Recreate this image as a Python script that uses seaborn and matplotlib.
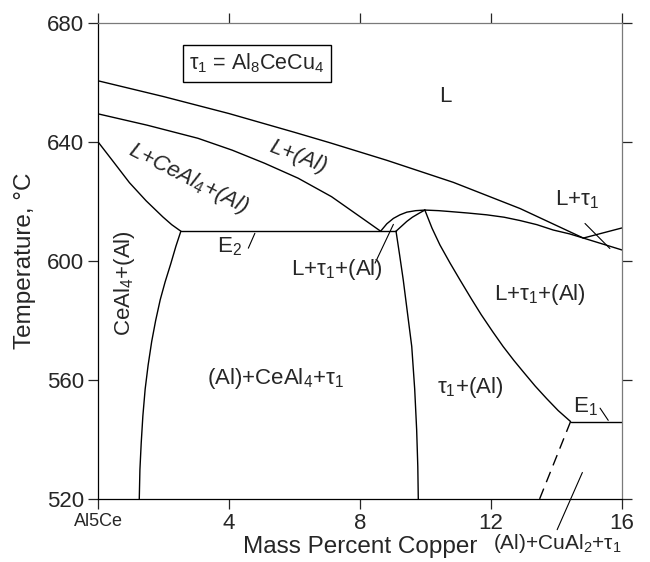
import matplotlib
matplotlib.use('Agg')
import matplotlib.pyplot as plt
import seaborn as sns
import pandas as pd

sns.set_style('ticks')
plt.rcParams['font.family'] = ['Liberation Sans', 'DejaVu Sans']
plt.rcParams['mathtext.fontset'] = 'custom'
plt.rcParams['mathtext.rm'] = 'Liberation Sans'
plt.rcParams['mathtext.it'] = 'Liberation Sans:italic'
plt.rcParams['mathtext.default'] = 'regular'

# ---------------- data (mass % Cu, temperature °C) ----------------
liquidus_x = [0.0, 2.0, 4.0, 6.0, 7.08, 8.82, 10.85, 12.89, 14.82, 16.0]
liquidus_t = [660.5, 655.2, 649.5, 643.2, 639.7, 633.8, 626.4, 617.6, 607.7, 603.7]

al_ceal4_x = [0.0, 1.5, 3.05, 4.1, 5.09, 6.11, 7.13, 8.14, 8.63]
al_ceal4_t = [649.4, 645.6, 641.2, 637.2, 632.8, 627.8, 621.6, 613.8, 610.0]

ceal4_liq_x = [0.0, 0.45, 0.96, 1.47, 1.98, 2.25, 2.53]
ceal4_liq_t = [640.0, 633.6, 626.3, 620.2, 614.8, 612.2, 610.0]

e2_x = [2.53, 9.10]
e2_t = [610.0, 610.0]

left_solvus_x = [2.53, 2.38, 2.22, 2.05, 1.90, 1.76, 1.64, 1.53, 1.44, 1.37, 1.32, 1.28, 1.26]
left_solvus_t = [610.0, 605.0, 599.0, 593.0, 587.0, 580.0, 573.0, 565.0, 557.0, 548.0, 539.0, 530.0, 520.0]

right_solvus_x = [9.10, 9.21, 9.32, 9.45, 9.58, 9.67, 9.73, 9.765, 9.78]
right_solvus_t = [610.0, 602.0, 593.7, 582.5, 571.3, 557.0, 543.3, 531.0, 520.0]

dome_outer_x = [8.63, 8.82, 9.02, 9.22, 9.43, 9.70, 9.98]
dome_outer_t = [610.0, 612.5, 614.3, 615.5, 616.4, 616.9, 617.1]

dome_inner_x = [9.10, 9.27, 9.43, 9.60, 9.80, 9.98]
dome_inner_t = [610.0, 611.7, 613.3, 614.7, 616.0, 617.1]

tau_liq_x = [9.98, 10.4, 10.75, 11.3, 11.87, 12.4, 12.88, 13.4, 13.9, 14.4, 14.82]
tau_liq_t = [617.1, 616.9, 616.6, 616.1, 615.5, 614.7, 613.6, 612.2, 610.4, 609.1, 607.7]

groove_x = [14.82, 16.0]
groove_t = [607.7, 611.1]

tau_al_x = [9.98, 10.2, 10.44, 10.75, 11.05, 11.4, 11.7, 12.05, 12.37, 12.7, 13.0, 13.35, 13.7, 14.05, 14.43]
tau_al_t = [617.1, 611.0, 605.4, 599.3, 593.7, 587.3, 582.0, 576.3, 571.3, 566.6, 562.6, 558.0, 553.8, 549.8, 546.1]

e1_x = [14.43, 16.0]
e1_t = [546.1, 546.1]

dashed_x = [14.43, 13.48]
dashed_t = [546.1, 520.0]

# leader lines
lead_e2_x = [4.79, 4.59]
lead_e2_t = [609.3, 604.3]
lead_mid_x = [9.02, 8.46]
lead_mid_t = [612.3, 599.3]
lead_ltau_x = [14.87, 15.63]
lead_ltau_t = [612.6, 604.2]
lead_e1_x = [15.33, 15.58]
lead_e1_t = [550.6, 546.5]
lead_cual2_x = [14.79, 14.02]
lead_cual2_t = [529.0, 509.8]

x_ticks = [0, 4, 8, 12, 16]
x_ticklabels = ['Al5Ce', '4', '8', '12', '16']
y_ticks = [520, 560, 600, 640, 680]

# ---------------- figure ----------------
fig = plt.figure(figsize=(6.5, 5.62), dpi=100)
ax = fig.add_axes([98/650, 1-499.3/562, (622-98)/650, (499.3-22.7)/562])

LW = 1.0

def curve(xs, ts, lw=LW):
    df = pd.DataFrame({'x': xs, 't': ts})
    sns.lineplot(data=df, x='x', y='t', sort=False, estimator=None,
                 color='black', lw=lw, ax=ax)
    line = ax.lines[-1]
    line.set_solid_joinstyle('round')
    return line

for xs, ts in [(liquidus_x, liquidus_t), (al_ceal4_x, al_ceal4_t),
               (ceal4_liq_x, ceal4_liq_t), (e2_x, e2_t),
               (left_solvus_x, left_solvus_t), (right_solvus_x, right_solvus_t),
               (dome_outer_x, dome_outer_t), (dome_inner_x, dome_inner_t),
               (tau_liq_x, tau_liq_t), (groove_x, groove_t),
               (tau_al_x, tau_al_t), (e1_x, e1_t)]:
    curve(xs, ts)

ln = curve(dashed_x, dashed_t)
ln.set_linestyle((0, (8, 5)))

for xs, ts in [(lead_e2_x, lead_e2_t), (lead_mid_x, lead_mid_t),
               (lead_ltau_x, lead_ltau_t), (lead_e1_x, lead_e1_t)]:
    curve(xs, ts, lw=0.8)
ln = curve(lead_cual2_x, lead_cual2_t, lw=0.8)
ln.set_clip_on(False)

ax.set_xlim(0, 16)
ax.set_ylim(520, 680)
ax.set_xticks(x_ticks)
ax.set_xticklabels(x_ticklabels)
ax.set_yticks(y_ticks)

ax.tick_params(direction='out', length=7, width=0.9, labelsize=16, pad=3,
               top=True, right=True)
ax.get_xticklabels()[0].set_fontsize(13)
for side in ['left', 'bottom']:
    ax.spines[side].set_color('black')
    ax.spines[side].set_linewidth(0.9)
for side in ['top', 'right']:
    ax.spines[side].set_color('#7a7a7a')
    ax.spines[side].set_linewidth(0.9)
    ax.spines[side].set_visible(True)
for t in ax.xaxis.get_ticklines()[1::2]:
    t.set_color('#7a7a7a')
for t in ax.yaxis.get_ticklines()[1::2]:
    t.set_color('#7a7a7a')

ax.set_xlabel('Mass Percent Copper', fontsize=17.5, labelpad=1)
ax.set_ylabel('Temperature, °C', fontsize=17.5, labelpad=8)

fs = 16
ax.text(4.86, 666.3, r'$\tau_1$ = Al$_8$CeCu$_4$', fontsize=15.5, ha='center', va='center',
        bbox=dict(boxstyle='square,pad=0.3', fc='white', ec='black', lw=1.0))
ax.text(10.6, 655.2, 'L', fontsize=fs, ha='center', va='center')
ax.text(6.11, 635.0, 'L+(Al)', fontsize=fs, style='italic', rotation=-21,
        ha='center', va='center')
ax.text(2.75, 627.8, r'L+CeAl$_\mathit{4}$+(Al)', fontsize=fs, style='italic', rotation=-27,
        ha='center', va='center')
ax.text(4.0, 604.8, r'E$_2$', fontsize=fs, ha='center', va='center')
ax.text(7.29, 597.0, r'L+$\tau_1$+(Al)', fontsize=fs, ha='center', va='center')
ax.text(0.82, 592.7, r'CeAl$_4$+(Al)', fontsize=fs, rotation=90, ha='center', va='center')
ax.text(5.43, 560.7, r'(Al)+CeAl$_4$+$\tau_1$', fontsize=fs, ha='center', va='center')
ax.text(11.36, 557.4, r'$\tau_1$+(Al)', fontsize=fs, ha='center', va='center')
ax.text(13.5, 588.6, r'L+$\tau_1$+(Al)', fontsize=fs, ha='center', va='center')
ax.text(14.64, 620.5, r'L+$\tau_1$', fontsize=fs, ha='center', va='center')
ax.text(14.87, 551.2, r'E$_1$', fontsize=fs, ha='center', va='center')
ax.text(14.03, 505.0, r'(Al)+CuAl$_2$+$\tau_1$', fontsize=15, ha='center', va='center',
        clip_on=False)

fig.savefig('out.png', dpi=100)
